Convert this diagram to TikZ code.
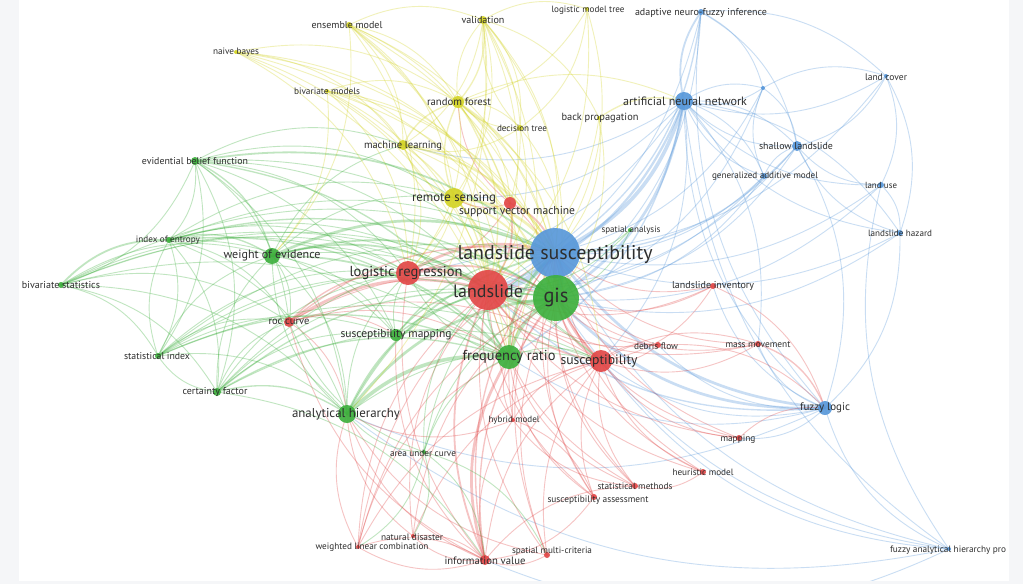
\documentclass[tikz,border=0pt]{standalone}
\usepackage{fontspec}
\setmainfont{PT Sans}
\usepackage{graphicx}
\pgfdeclarelayer{bg}
\pgfdeclarelayer{edges}
\pgfsetlayers{bg,edges,main}
\definecolor{cB}{RGB}{88,152,218}
\definecolor{cG}{RGB}{62,176,62}
\definecolor{cR}{RGB}{226,72,72}
\definecolor{cY}{RGB}{212,212,40}
\definecolor{frame}{RGB}{245,246,248}
\tikzset{
  dot/.style={circle,inner sep=0pt,draw=none,fill opacity=0.92},
  lab/.style={inner sep=0pt,text=black!82,anchor=center},
  edge/.style={draw opacity=0.32,line cap=round},
}
\begin{document}
\begin{tikzpicture}[x=1pt,y=-1pt]
\begin{pgfonlayer}{bg}
\fill[frame] (0,0) rectangle (1023,584);
\fill[white] (19,0) rectangle (1009,581);
\end{pgfonlayer}
\useasboundingbox (0,0) rectangle (1023,584);
% nodes
\foreach \n/\x/\y/\r/\c in {
LS/555/253/25/cB, LD/488/290/20/cR, GIS/556/298/23/cG, LR/408/273/12/cR,
RS/454/198/10/cY, SVM/510/203/6/cR, SA/630/230/2/cG, SM/396/335/6/cG,
FR/509/357/12/cG, SU/601/361/11/cR, DF/658/345/3/cR, EM/349/25/3/cY,
VA/483/20/4/cY, NB/236/52/2/cY, BM/327/91/2/cY, RF/458/102/6/cY,
DT/520/128/3/cY, LMT/587/9/2/cY, BP/599/118/2/cY, ML/403/145/5/cY,
ANFIS/701/12/3/cB, LC/886/76/2/cB, ANN/684/101/9/cB, SL/797/146/5/cB,
GAM/764/176/3/cB, LU/881/185/3/cB, LH/900/233/3/cB, LI/713/286/3/cR,
EBF/195/161/4/cG, IOE/169/240/3/cG, WOE/272/256/8/cG, BS/61/285/3/cG,
ROC/289/322/5/cR, SI/158/356/3/cG, CF/217/392/4/cG, AH/347/414/9/cG,
AUC/424/452/2/cG, ND/413/536/2/cR, WLC/358/547/2/cR, IV/485/560/5/cR,
HM/513/420/2/cR, SMC/547/555/3/cR, SAS/594/497/3/cR, STM/635/486/3/cR,
HEU/703/472/3/cR, MAP/739/438/3/cR, MM/758/344/3/cR, FL/825/408/7/cB,
FAHP/949/549/2/cB, UNK/763/88/2/cB}
{\node[dot,fill=\c,minimum size={2*\r pt}] (\n) at (\x,\y) {};}
% edges
\begin{pgfonlayer}{edges}
\begin{scope}
\clip (19,0) rectangle (1009,580);
\foreach \s/\c/\L in {
LS/cB/{LD/6,GIS/6},
GIS/cG/{LD/5},
ANN/cB/{LS/4,GIS/3,LD/2.5,LR/1,FR/1.5,RS/1,SU/1,ANFIS/2,UNK/1,SL/1,GAM/1,LH/1,MM/1,ML/1},
FL/cB/{LS/3,GIS/3,LD/1.5,FR/1,SU/1,AH/1,ANN/1,ANFIS/1,MM/1,LI/1,DF/1,MAP/1},
FR/cG/{LS/3,GIS/4,LD/2,LR/1,SU/1},
LR/cR/{LS/3,LD/4,GIS/2},
SU/cR/{LS/3,GIS/2,LD/2,DF/1,MM/1},
RS/cY/{LS/3,GIS/2,LD/2,LR/1,FR/1,RF/1.5,ML/1.5},
WOE/cG/{LS/3,GIS/2,LD/2,FR/2,LR/1,AH/1,RS/1,SM/1,ROC/1,SU/1,ML/1},
AH/cG/{LS/2,GIS/3,LD/2,FR/4,LR/1,SU/1,WOE/1},
SVM/cR/{LS/2,LD/2,GIS/1,RF/1,LR/1,RS/1},
ML/cY/{LS/2,LD/1.5,GIS/1,RF/1.5,SVM/1,LR/1},
RF/cY/{LS/1.5,LD/1.5,GIS/1,VA/1,LR/1,SVM/1,FR/1,DT/1,ANN/1,SU/1},
VA/cY/{LS/1,LD/1,RF/1.5,ML/1,RS/1,GIS/1,LR/1,FR/1,SVM/1,DT/1,LMT/1,BP/1,AH/1},
EM/cY/{LS/1,LD/1,RF/1,ML/1,VA/1,GIS/1,LR/1,WOE/1,FR/1,SVM/1,RS/1},
NB/cY/{LS/1,LD/1,RF/1,LR/1,GIS/1,FR/1,ML/1,SVM/1},
BM/cY/{LS/1,LD/1,GIS/1,FR/1,LR/1,WOE/1,RF/1,ML/1,SVM/1},
DT/cY/{RF/1,LS/1,LD/1,ML/1,VA/1},
LMT/cY/{LS/1,LD/1,RF/1,DT/1},
BP/cY/{ANN/1.5,LS/1,LD/1,GIS/1},
ANFIS/cB/{LS/1.5,GIS/1,LD/1,UNK/1,SL/1,LC/1},
UNK/cB/{LS/1,GIS/1,SL/1,LC/1,ANN/1},
LC/cB/{LS/1,ANN/1,LU/1,LH/1,SL/1},
LU/cB/{LS/1,GIS/1,SL/1,ANN/1,LH/1},
LH/cB/{LS/1,GIS/1,SL/1,ANN/1,FL/1},
SL/cB/{LS/1.5,ANN/1,GIS/1,LD/1,FL/1},
GAM/cB/{LS/1,ANN/1,SL/1,LD/1,GIS/1,UNK/1},
FAHP/cB/{FL/1,LS/1,GIS/1,ANN/1,AH/1,LU/1,SU/1,IV/1},
LI/cR/{LS/1,LD/1,GIS/1,SU/1,FL/1},
DF/cR/{LS/1,LD/1,SU/1,GIS/1,FL/1},
MM/cR/{LS/1,LD/1,GIS/1,SU/1,FL/1.5},
MAP/cR/{SU/1,LD/1,LS/1,GIS/1,FL/1},
HEU/cR/{SU/1,LD/1,LS/1,STM/1,GIS/1},
STM/cR/{SU/1,LD/1,LS/1,GIS/1,HM/1,FR/1},
SAS/cR/{LD/1,LS/1,SU/1,GIS/1,FR/1,IV/1},
SMC/cR/{LD/1,GIS/1,SU/1,LS/1,AH/1,IV/1},
IV/cR/{LD/2,FR/3,LS/1.5,GIS/1.5,SU/1,AH/1,LR/1,STM/1,ND/1,WLC/1,HM/1,ROC/1,SM/1},
HM/cR/{LD/1,LS/1,GIS/1,SU/1,FR/1,SAS/1,AH/1},
ND/cR/{LD/1,IV/1,GIS/1,SU/1,AH/1},
WLC/cR/{AH/1,LD/1,IV/1,GIS/1,LS/1,SU/1,FR/1},
AUC/cG/{FR/1,LS/1,LD/1,ROC/1,GIS/1,AH/1,IV/1,SMC/1,WLC/1,ND/1},
ROC/cR/{LD/3,LS/1.5,GIS/1,LR/1.5,FR/1,SM/1,AH/1,SU/1},
SM/cG/{LS/1.5,GIS/1.5,LD/1.5,FR/1,LR/1},
SA/cG/{LS/1,GIS/1,LD/1},
CF/cG/{FR/1.5,AH/1.5,WOE/1,LS/1,GIS/1.5,LD/1,LR/1,SI/1,ROC/1,SM/1,SU/1,IV/1},
SI/cG/{FR/1.5,WOE/1,LS/1,GIS/1,AH/1,LR/1,IOE/1,ROC/1,SM/1,LD/1,SU/1},
BS/cG/{SI/1,CF/1,FR/1,WOE/1,LS/1,GIS/1,IOE/2,AH/1,LD/1,LR/1,ROC/1},
IOE/cG/{WOE/1.5,FR/1.5,LS/1,GIS/1.5,LD/1,LR/1,CF/1,SI/1,AH/1,ROC/1,SM/1,RS/1,SU/1},
EBF/cG/{WOE/1.5,IOE/1,LS/2,FR/1.5,GIS/1,LD/1,SI/1,CF/1,BS/1,ML/1,RS/1,AH/1,ROC/1,SM/1,LR/1}}
{\foreach \t/\w in \L
  {\draw[edge,draw=\c,line width={\w*0.9pt}] (\s.center) to[bend left=24] (\t.center);}}
\end{scope}
\end{pgfonlayer}
% labels
\foreach \n/\w/\dx/\dy/\t in {
LS/195/0/1/{landslide susceptibility}, LD/70/0/1/{landslide}, GIS/25/0/-1/{gis},
LR/113/-2/0/{logistic regression}, RS/84/0/0/{remote sensing},
SVM/116/7/9/{support vector machine}, SA/59/1/0/{spatial analysis},
SM/111/0/0/{susceptibility mapping}, FR/93/0/0/{frequency ratio},
SU/77/-2/0/{susceptibility}, DF/44/-2/1/{debris flow}, EM/71/-2/0/{ensemble model},
VA/43/0/0/{validation}, NB/46/0/0/{naive bayes}, BM/66/0/0/{bivariate models},
RF/64/1/0/{random forest}, DT/50/2/0/{decision tree}, LMT/73/1/1/{logistic model tree},
BP/77/1/0/{back propagation}, ML/78/0/1/{machine learning},
ANFIS/132/0/1/{adaptive neuro-fuzzy inference}, LC/42/0/1/{land cover},
ANN/124/1/0/{artificial neural network}, SL/74/-1/0/{shallow landslide},
GAM/106/1/0/{generalized additive model}, LU/32/0/0/{land use},
LH/64/0/0/{landslide hazard}, LI/82/0/0/{landslide inventory},
EBF/106/0/0/{evidential belief function}, IOE/64/-1/0/{index of entropy},
WOE/97/0/0/{weight of evidence}, BS/78/0/0/{bivariate statistics},
ROC/41/0/0/{roc curve}, SI/66/-1/0/{statistical index}, CF/65/-2/0/{certainty factor},
AH/108/-1/0/{analytical hierarchy}, AUC/66/-1/1/{area under curve},
ND/62/-1/1/{natural disaster}, WLC/113/14/0/{weighted linear combination},
IV/81/0/1/{information value}, HM/51/1/0/{hybrid model},
SMC/80/5/-4/{spatial multi-criteria}, SAS/101/4/3/{susceptibility assessment},
STM/75/0/0/{statistical methods}, HEU/61/0/0/{heuristic model}, MAP/35/-1/1/{mapping},
MM/65/0/1/{mass movement}, FL/50/0/0/{fuzzy logic},
FAHP/116/-1/1/{fuzzy analytical hierarchy pro}}
{\node[lab] (\n-t) at ([shift={(\dx,\dy)}]\n.center) {\resizebox{\w pt}{!}{\t}};}
\end{tikzpicture}
\end{document}
